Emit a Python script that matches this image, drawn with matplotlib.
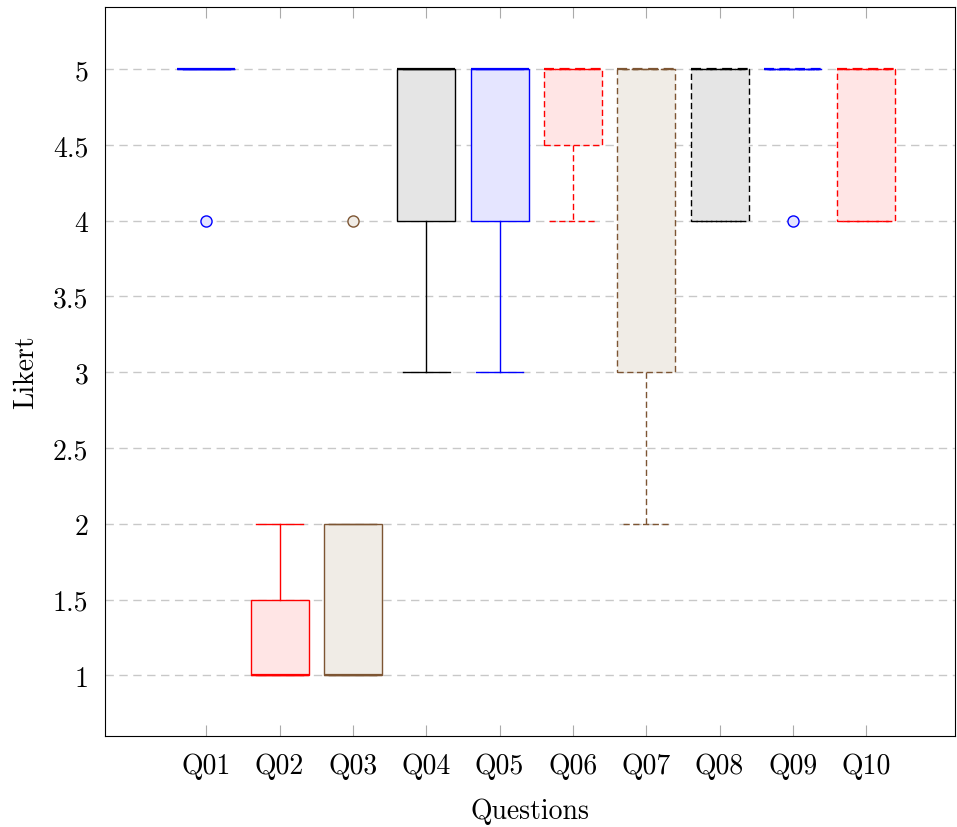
import matplotlib
matplotlib.use('Agg')
import matplotlib.pyplot as plt

plt.rcParams['font.family'] = 'serif'
plt.rcParams['font.serif'] = ['cmr10']
plt.rcParams['axes.formatter.use_mathtext'] = True

questions = ['Q01', 'Q02', 'Q03', 'Q04', 'Q05', 'Q06', 'Q07', 'Q08', 'Q09', 'Q10']
medians = [5, 1, 1, 5, 5, 5, 5, 5, 5, 5]
q1 = [5, 1, 1, 4, 4, 4.5, 3, 4, 5, 4]
q3 = [5, 1.5, 2, 5, 5, 5, 5, 5, 5, 5]
whis_lo = [5, 1, 1, 3, 3, 4, 2, 4, 5, 4]
whis_hi = [5, 2, 2, 5, 5, 5, 5, 5, 5, 5]
outliers = [[4], [], [4], [], [], [], [], [], [4], []]

brown = '#7d5533'
edge = ['blue', 'red', brown, 'black', 'blue', 'red', brown, 'black', 'blue', 'red']
fill = ['#e5e5ff', '#ffe5e5', '#f0ece6', '#e5e5e5', '#e5e5ff',
        '#ffe5e5', '#f0ece6', '#e5e5e5', '#e5e5ff', '#ffe5e5']
dashed = [False, False, False, False, False, True, True, True, True, True]

stats = []
for i in range(len(questions)):
    stats.append({'med': medians[i], 'q1': q1[i], 'q3': q3[i],
                  'whislo': whis_lo[i], 'whishi': whis_hi[i],
                  'fliers': outliers[i], 'label': questions[i]})

fig = plt.figure(figsize=(9.57, 8.28), dpi=100)
ax = fig.add_axes([105/957, 1-737/828, 850/957, 729/828])

pos = list(range(1, len(questions)+1))
bp = ax.bxp(stats, positions=pos, widths=0.79, patch_artist=True,
            showfliers=True, capwidths=0.64)

for i in range(len(questions)):
    ls = (0, (4.5, 2.5)) if dashed[i] else '-'
    box = bp['boxes'][i]
    box.set_facecolor(fill[i])
    box.set_edgecolor(edge[i])
    box.set_linewidth(1.0)
    box.set_linestyle(ls)
    bp['medians'][i].set(color=edge[i], linewidth=1.6, linestyle=ls, zorder=3)
    for j in (2*i, 2*i+1):
        bp['whiskers'][j].set(color=edge[i], linewidth=1.0, linestyle=ls, zorder=3)
        bp['caps'][j].set(color=edge[i], linewidth=1.0, linestyle=ls, zorder=3)
    bp['fliers'][i].set(marker='o', markersize=8, markerfacecolor=fill[i],
                        markeredgecolor=edge[i], markeredgewidth=1.0, zorder=3)

ax.set_xlim(-0.38, 11.21)
ax.set_ylim(0.6, 5.41)
ax.set_xticks(pos)
ax.set_xticklabels(questions)
yt = [1, 1.5, 2, 2.5, 3, 3.5, 4, 4.5, 5]
ax.set_yticks(yt)
ax.set_yticklabels(['1', '1.5', '2', '2.5', '3', '3.5', '4', '4.5', '5'])

ax.yaxis.grid(True, color='#c8c8c8', linestyle=(0, (6, 4)), linewidth=1.0)
ax.set_axisbelow('line')
ax.tick_params(axis='x', direction='in', length=8, color='#aaaaaa',
               top=True, labelsize=20, pad=12)
ax.tick_params(axis='y', length=0, labelsize=20, pad=12)

ax.set_xlabel('Questions', fontsize=20, labelpad=13)
ax.set_ylabel('Likert', fontsize=20, labelpad=10)

fig.savefig('out.png', dpi=100)
